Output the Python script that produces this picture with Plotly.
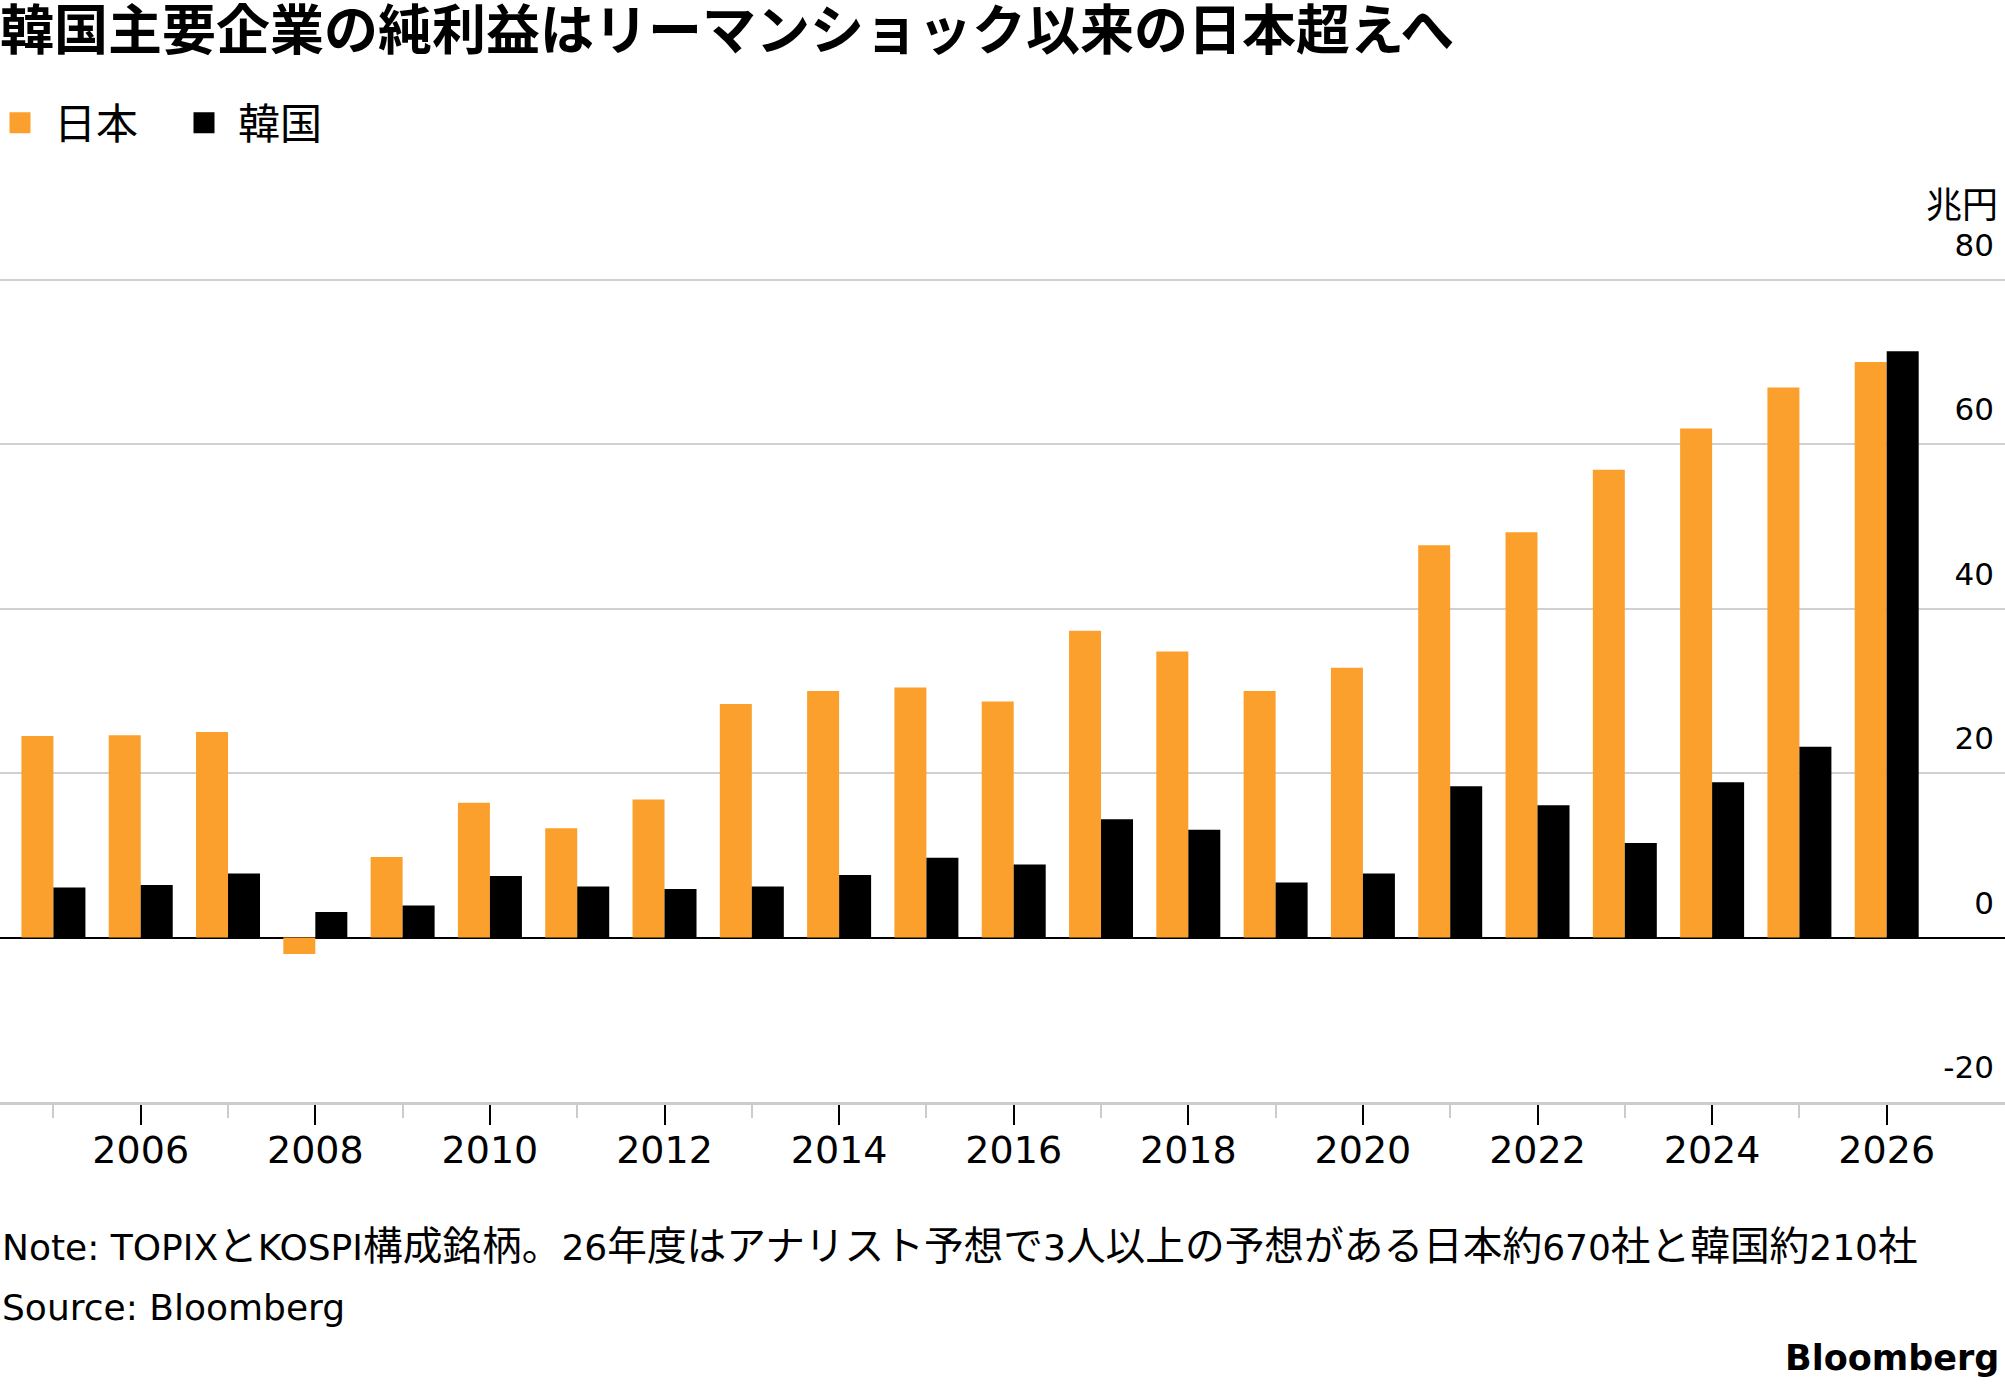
import re
import plotly.graph_objects as go

years = list(range(2005, 2027))
japan = [24.5, 24.6, 25.0, -2.0, 9.8, 16.4, 13.3, 16.8, 28.4, 30.0, 30.4, 28.7,
         37.3, 34.8, 30.0, 32.8, 47.7, 49.3, 56.9, 61.9, 66.9, 70.0]
korea = [6.1, 6.4, 7.8, 3.1, 3.9, 7.5, 6.2, 5.9, 6.2, 7.6, 9.7, 8.9,
         14.4, 13.1, 6.7, 7.8, 18.4, 16.1, 11.5, 18.9, 23.2, 71.3]
series_names = ["日本", "韓国"]
colors = ["#FBA02C", "#000000"]
y_ticks = [-20, 0, 20, 40, 60, 80]
x_ticks = list(range(2006, 2027, 2))

title = "韓国主要企業の純利益はリーマンショック以来の日本超えへ"
unit = "兆円"
note = "Note: TOPIXとKOSPI構成銘柄。26年度はアナリスト予想で3人以上の予想がある日本約670社と韓国約210社"
source = "Source: Bloomberg"
brand = "Bloomberg"

W, H = 2005, 1389
M_T, M_B = 214, 287
PLOT_H = H - M_T - M_B

def py(p):
    # pixel row -> paper y
    return (H - M_B - p) / PLOT_H

def cjk_bigger(s, size):
    return re.sub(r"([^\x00-\x7f]+)", r'<span style="font-size:%spx">\1</span>' % size, s)

LATIN = "DejaVu Sans, Noto Sans CJK JP, sans-serif"
CJK = "Noto Sans CJK JP, DejaVu Sans, sans-serif"

fig = go.Figure()
for name, vals, c in zip(series_names, [japan, korea], colors):
    fig.add_trace(go.Bar(x=years, y=vals, name=name, marker_color=c,
                         marker_line_width=0, showlegend=False))
# legend entries
for name, c in zip(series_names, colors):
    fig.add_trace(go.Scatter(x=[None], y=[None], mode="markers", name="\u2004" + name,
                             marker=dict(symbol="square", size=16, color=c,
                                         line=dict(width=5, color=c))))

fig.update_layout(
    width=W, height=H,
    margin=dict(l=0, r=0, t=M_T, b=M_B, pad=0),
    paper_bgcolor="white", plot_bgcolor="white",
    barmode="group", bargap=0.267, bargroupgap=0,
    font=dict(family=LATIN, color="#000000", size=32),
    title=dict(text="<b>" + title + "</b>", x=0, xref="paper", xanchor="left",
               y=1 - 31 / H, yref="container", yanchor="middle",
               font=dict(family=CJK, size=54, color="#000")),
    legend=dict(orientation="h", x=0, xanchor="left", xref="paper",
                y=1 - 123 / H, yref="container", yanchor="middle",
                font=dict(family=CJK, size=42, color="#000"), itemwidth=30,
                entrywidth=139, entrywidthmode="pixels",
                bgcolor="rgba(0,0,0,0)", traceorder="normal"),
    xaxis=dict(range=[2004.388, 2027.355], tickmode="array", tickvals=x_ticks,
               ticktext=[str(v) for v in x_ticks],
               ticks="outside", ticklen=20, tickwidth=2, tickcolor="#000",
               showline=True, linecolor="#cccccc", linewidth=3,
               showgrid=False, zeroline=False, ticklabelstandoff=-8,
               tickfont=dict(size=38, family=LATIN, color="#000"),
               minor=dict(tickmode="linear", tick0=2005, dtick=1, ticks="outside",
                          ticklen=13, tickwidth=2, tickcolor="#cccccc", showgrid=False)),
    yaxis=dict(range=[-20, 88], side="right", tickmode="array", tickvals=y_ticks,
               ticktext=[str(v) for v in y_ticks],
               ticklabelposition="inside top", ticks="",
               ticklabelshift=-13, ticklabelstandoff=8,
               showgrid=True, gridcolor="#d0d0d0", gridwidth=2,
               zeroline=True, zerolinecolor="#000", zerolinewidth=2,
               showline=False, tickfont=dict(size=31, family=LATIN, color="#000")),
    annotations=[
        dict(text=unit, xref="paper", x=1, xanchor="right", xshift=-5, yref="paper", y=py(202),
             yanchor="middle", showarrow=False, font=dict(family=CJK, size=36)),
        dict(text=cjk_bigger(note, 39.7), xref="paper", x=0, xanchor="left", yref="paper",
             y=py(1246), yanchor="middle", showarrow=False,
             font=dict(family=LATIN, size=36)),
        dict(text=source, xref="paper", x=0, xanchor="left", yref="paper", y=py(1307),
             yanchor="middle", showarrow=False, font=dict(family=LATIN, size=36)),
        dict(text="<b>" + brand + "</b>", xref="paper", x=1, xanchor="right", xshift=-4,
             yref="paper", y=py(1358), yanchor="middle", showarrow=False,
             font=dict(family=LATIN, size=35)),
    ],
)

fig.write_html("out.html")
